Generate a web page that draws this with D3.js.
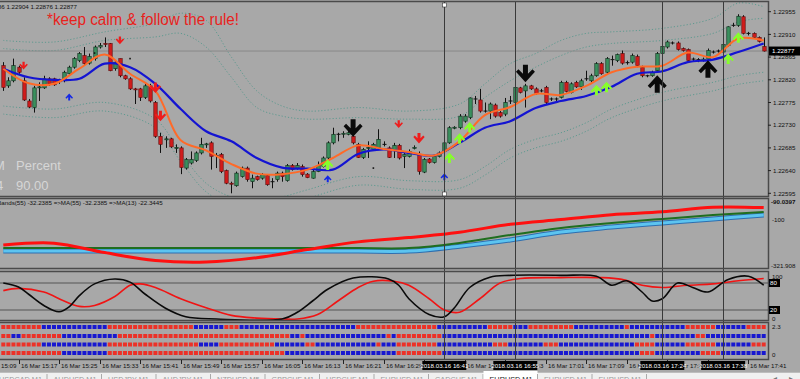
<!DOCTYPE html>
<html><head><meta charset="utf-8">
<script src="https://cdn.jsdelivr.net/npm/d3@7/dist/d3.min.js"></script>
<style>
body{margin:0;background:#a8a8a8;overflow:hidden}
svg{display:block}
text{font-family:"Liberation Sans",Arial,sans-serif}
</style></head>
<body><svg id="c" width="800" height="379"></svg>
<script>
// ---------------- DATA ----------------
const symbolHeader = "EURUSD,M1  1.22886 1.22904 1.22876 1.22877";
const firstBarTime = "15:14";
const open = [1.22848,1.22808,1.22818,1.22845,1.22818,1.22778,1.22765,1.22804,1.22804,1.22822,1.22822,1.22818,1.22818,1.22832,1.22845,1.22858,1.22868,1.22853,1.22862,1.22885,1.22892,1.22892,1.22842,1.22862,1.22828,1.22822,1.22802,1.22802,1.22785,1.22808,1.22775,1.22708,1.22702,1.22703,1.22685,1.22685,1.22645,1.22655,1.22660,1.22675,1.22692,1.22695,1.22670,1.22672,1.22640,1.22615,1.22610,1.22628,1.22645,1.22618,1.22628,1.22625,1.22630,1.22618,1.22622,1.22635,1.22620,1.22650,1.22645,1.22648,1.22633,1.22625,1.22638,1.22648,1.22665,1.22695,1.22712,1.22713,1.22712,1.22708,1.22692,1.22666,1.22685,1.22682,1.22685,1.22692,1.22685,1.22680,1.22690,1.22668,1.22668,1.22685,1.22672,1.22637,1.22663,1.22656,1.22668,1.22678,1.22695,1.22725,1.22725,1.22738,1.22745,1.22782,1.22780,1.22758,1.22758,1.22770,1.22755,1.22752,1.22778,1.22775,1.22804,1.22798,1.22808,1.22802,1.22798,1.22805,1.22782,1.22782,1.22785,1.22815,1.22795,1.22815,1.22806,1.22822,1.22818,1.22828,1.22852,1.22835,1.22860,1.22858,1.22872,1.22854,1.22855,1.22866,1.22845,1.22828,1.22828,1.22838,1.22872,1.22885,1.22893,1.22893,1.22882,1.22880,1.22861,1.22860,1.22858,1.22861,1.22875,1.22877,1.22875,1.22888,1.22928,1.22928,1.22945,1.22912,1.22912,1.22904,1.22886];
const high = [1.22855,1.22825,1.22862,1.22848,1.22825,1.22782,1.22808,1.22815,1.22828,1.22825,1.22824,1.22822,1.22838,1.22848,1.22865,1.22875,1.22885,1.22872,1.22888,1.22893,1.22904,1.22893,1.22858,1.22862,1.22830,1.22825,1.22804,1.22804,1.22812,1.22812,1.22778,1.22715,1.22708,1.22705,1.22692,1.22688,1.22665,1.22678,1.22678,1.22705,1.22695,1.22698,1.22675,1.22675,1.22642,1.22618,1.22638,1.22648,1.22648,1.22632,1.22630,1.22635,1.22633,1.22625,1.22638,1.22638,1.22653,1.22653,1.22655,1.22652,1.22635,1.22642,1.22658,1.22668,1.22698,1.22725,1.22715,1.22718,1.22720,1.22712,1.22695,1.22685,1.22698,1.22695,1.22722,1.22698,1.22688,1.22695,1.22693,1.22675,1.22682,1.22690,1.22678,1.22665,1.22665,1.22670,1.22678,1.22698,1.22728,1.22728,1.22752,1.22752,1.22785,1.22788,1.22802,1.22775,1.22775,1.22773,1.22758,1.22784,1.22788,1.22808,1.22806,1.22812,1.22810,1.22805,1.22802,1.22808,1.22785,1.22785,1.22818,1.22818,1.22815,1.22818,1.22822,1.22838,1.22832,1.22855,1.22855,1.22865,1.22868,1.22872,1.22878,1.22858,1.22872,1.22870,1.22848,1.22830,1.22838,1.22875,1.22890,1.22898,1.22896,1.22896,1.22884,1.22882,1.22864,1.22863,1.22864,1.22882,1.22878,1.22880,1.22893,1.22926,1.22933,1.22950,1.22948,1.22915,1.22914,1.22906,1.22904];
const low = [1.22798,1.22804,1.22815,1.22832,1.22778,1.22764,1.22755,1.22778,1.22802,1.22808,1.22808,1.22812,1.22815,1.22830,1.22842,1.22855,1.22848,1.22850,1.22858,1.22882,1.22885,1.22837,1.22838,1.22825,1.22820,1.22800,1.22772,1.22778,1.22782,1.22775,1.22705,1.22675,1.22685,1.22685,1.22675,1.22633,1.22642,1.22652,1.22657,1.22672,1.22685,1.22642,1.22645,1.22635,1.22613,1.22595,1.22608,1.22626,1.22618,1.22605,1.22620,1.22622,1.22610,1.22605,1.22618,1.22618,1.22618,1.22640,1.22642,1.22628,1.22625,1.22624,1.22637,1.22646,1.22662,1.22692,1.22698,1.22705,1.22710,1.22692,1.22665,1.22663,1.22665,1.22680,1.22682,1.22688,1.22665,1.22665,1.22662,1.22645,1.22666,1.22682,1.22632,1.22635,1.22654,1.22654,1.22666,1.22676,1.22693,1.22722,1.22722,1.22735,1.22742,1.22772,1.22755,1.22755,1.22742,1.22745,1.22745,1.22748,1.22772,1.22772,1.22793,1.22765,1.22800,1.22790,1.22795,1.22772,1.22778,1.22778,1.22783,1.22795,1.22793,1.22804,1.22800,1.22818,1.22815,1.22826,1.22830,1.22832,1.22848,1.22855,1.22850,1.22850,1.22852,1.22845,1.22825,1.22825,1.22826,1.22835,1.22870,1.22882,1.22890,1.22878,1.22876,1.22856,1.22856,1.22855,1.22856,1.22858,1.22872,1.22874,1.22872,1.22886,1.22925,1.22925,1.22910,1.22908,1.22902,1.22894,1.22876];
const close = [1.22805,1.22818,1.22848,1.22835,1.22780,1.22766,1.22804,1.22806,1.22822,1.22812,1.22810,1.22817,1.22835,1.22845,1.22862,1.22872,1.22852,1.22866,1.22885,1.22888,1.22891,1.22838,1.22855,1.22828,1.22822,1.22802,1.22801,1.22785,1.22808,1.22778,1.22708,1.22692,1.22703,1.22687,1.22686,1.22646,1.22662,1.22662,1.22675,1.22692,1.22693,1.22668,1.22670,1.22638,1.22615,1.22614,1.22635,1.22645,1.22622,1.22625,1.22622,1.22632,1.22612,1.22618,1.22635,1.22628,1.22650,1.22642,1.22650,1.22632,1.22626,1.22638,1.22650,1.22665,1.22695,1.22712,1.22712,1.22714,1.22715,1.22695,1.22666,1.22682,1.22686,1.22692,1.22702,1.22692,1.22666,1.22690,1.22665,1.22672,1.22678,1.22686,1.22638,1.22662,1.22656,1.22668,1.22675,1.22695,1.22725,1.22726,1.22748,1.22748,1.22784,1.22782,1.22758,1.22758,1.22772,1.22748,1.22748,1.22775,1.22778,1.22805,1.22795,1.22808,1.22802,1.22793,1.22798,1.22775,1.22782,1.22782,1.22815,1.22797,1.22812,1.22806,1.22818,1.22822,1.22828,1.22852,1.22832,1.22862,1.22860,1.22870,1.22853,1.22854,1.22868,1.22848,1.22828,1.22828,1.22835,1.22872,1.22886,1.22895,1.22893,1.22880,1.22878,1.22858,1.22861,1.22860,1.22861,1.22878,1.22875,1.22877,1.22890,1.22925,1.22928,1.22946,1.22912,1.22912,1.22904,1.22896,1.22877];

// moving averages, read every 5 bars
const maBars   = [0,5,10,15,20,25,30,35,40,45,50,55,60,65,70,75,80,85,90,95,100,105,110,115,120,125,130,135,140,145,150];
const maFast   = [1.22842,1.22813,1.22812,1.22842,1.22870,1.22832,1.22798,1.22700,1.22680,1.22653,1.22634,1.22633,1.22642,1.22665,1.22690,1.22683,1.22677,1.22670,1.22698,1.22750,1.22766,1.22792,1.22790,1.22808,1.22835,1.22846,1.22848,1.22874,1.22865,1.22902,1.22898];
const maSlow   = [1.22842,1.22825,1.22820,1.22822,1.22852,1.22845,1.22812,1.22762,1.22718,1.22698,1.22665,1.22646,1.22644,1.22642,1.22673,1.22682,1.22675,1.22670,1.22695,1.22725,1.22738,1.22764,1.22778,1.22788,1.22806,1.22832,1.22837,1.22855,1.22860,1.22875,1.22892];
// envelope bands (dotted)
const bandBars   = [0,10,20,30,35,40,45,50,55,60,70,80,90,95,100,105,110,115,120,130,140,145,150];
const bandUpper2 = [1.22898,1.22895,1.22915,1.22932,1.22952,1.22938,1.22865,1.22798,1.22768,1.22758,1.22765,1.22758,1.22772,1.22812,1.22852,1.22872,1.22898,1.22912,1.22915,1.22922,1.22942,1.22972,1.22965];
const bandUpper1 = [1.22882,1.22878,1.22898,1.22905,1.22912,1.22885,1.22825,1.22765,1.22748,1.22742,1.22745,1.22742,1.22748,1.22785,1.22818,1.22845,1.22868,1.22885,1.22892,1.22898,1.22912,1.22935,1.22942];
const bandLower1 = [1.22768,1.22762,1.22775,1.22742,1.22675,1.22615,1.22588,1.22582,1.22588,1.22602,1.22628,1.22620,1.22622,1.22648,1.22682,1.22702,1.22715,1.22735,1.22762,1.22795,1.22815,1.22828,1.22835];
const bandLower2 = [1.22752,1.22745,1.22758,1.22725,1.22658,1.22598,1.22571,1.22565,1.22571,1.22585,1.22611,1.22603,1.22605,1.22631,1.22665,1.22685,1.22698,1.22718,1.22745,1.22778,1.22798,1.22811,1.22818];

const bidPrice = 1.22877;
const priceTicks = [1.22955,1.22910,1.22865,1.22820,1.22775,1.22730,1.22685,1.22640,1.22595];

// signal arrows [bar, price]
const redDownSmall = [[4,1.22848],[23,1.22898],[78,1.22732]];
const redDownBig   = [[30,1.22804],[31,1.22748],[82,1.22704]];
const blueUp       = [[13,1.22786],[64,1.22624],[87,1.22628]];
const limeUp       = [[64,1.22652],[88,1.22666],[90,1.22704],[92,1.22726],[117,1.22800],[119,1.22806],[143,1.22862],[145,1.22904]];
const blackDown    = [[69,1.22724],[103,1.22832]];
const blackUp      = [[129,1.22812],[139,1.22842]];
const blackDots    = [[18,1.22873],[25,1.22862],[73,1.22645]];

// vertical lines
const vLineBars   = [87,101,130,142];
const vLineLabels = ["2018.03.16 16:41","2018.03.16 16:55","2018.03.16 17:24","2018.03.16 17:38"];

// time axis
const timeLabels = ["16 Mar 15:09","16 Mar 15:17","16 Mar 15:25","16 Mar 15:33","16 Mar 15:41","16 Mar 15:49","16 Mar 15:57","16 Mar 16:05","16 Mar 16:13","16 Mar 16:21","16 Mar 16:29","16 Mar 16:37","16 Mar 16:45","16 Mar 16:53","16 Mar 17:01","16 Mar 17:09","16 Mar 17:17","16 Mar 17:25","16 Mar 17:33","16 Mar 17:41"];

// panel 2 (bands oscillator)
const p2Legend = "=>Bands(55) -32.2385  =>MA(55) -32.2385  =>MA(13) -22.3445";
const p2Bars  = [0,10,20,30,40,50,60,70,80,90,100,110,120,130,140,150];
const p2Red   = [-215,-206,-250,-287,-294,-274,-236,-200,-180,-155,-118,-96,-73,-60,-38,-40];
const p2Green = [-229,-229,-229,-229,-229,-229,-229,-229,-229,-205,-168,-135,-112,-93,-75,-61];
const p2Blue  = [-243,-243,-243,-243,-243,-243,-243,-243,-243,-220,-191,-154,-131,-112,-93,-75];
const p2Max = 0.0397, p2Min = -321.908, p2Level = -100;

// panel 3 (stochastic)
const stBlack = [[0,80],[3,71],[5,55],[8,30],[11,16],[13,27],[15,52],[18,78],[22,89],[25,82],[28,55],[32,24],[36,5],[42,0],[55,0],[58,15],[61,40],[64,66],[69,91],[76,89],[78,75],[80,45],[84,10],[87,5],[89,25],[92,70],[96,93],[100,97],[110,97],[117,95],[120,75],[123,85],[126,60],[128,40],[130,45],[133,80],[136,70],[139,60],[143,88],[147,95],[150,75]];
const stRed   = [[0,63],[3,68],[8,60],[12,40],[15,28],[18,30],[22,50],[25,75],[27,78],[30,70],[35,45],[40,25],[45,8],[50,2],[55,0],[58,0],[62,10],[66,40],[70,70],[73,84],[77,84],[80,75],[84,45],[87,20],[90,15],[94,45],[98,80],[102,90],[110,92],[118,92],[122,88],[126,75],[130,70],[135,75],[140,78],[145,85],[150,90]];
const stLevels = [80,20];

// panel 4 (signal grid), run lengths per row
const gridRows = [
 [["R",8],["B",13],["R",17],["B",6],["R",3],["B",23],["R",16],["B",10],["R",5],["B",3],["R",9],["B",10],["R",1],["B",11],["R",6],["B",6],["R",4]],
 [["R",2],["B",2],["R",8],["B",11],["R",34],["B",2],["R",1],["B",16],["R",1],["B",1],["R",9],["B",41],["R",1],["B",8],["R",2],["B",12]],
 [["R",8],["B",13],["R",18],["B",4],["R",11],["B",6],["R",2],["B",12],["R",1],["B",3],["R",8],["B",11],["R",3],["B",7],["R",3],["B",15],["R",4],["B",6],["R",6],["B",7],["R",3]],
 [["R",12],["B",9],["R",35],["B",22],["R",9],["B",39],["R",3],["B",9],["R",4],["B",9]]
];

const tabs = ["USDCAD M1","AUDUSD M1","USDJPY M1","AUDJPY M1","NZDUSD M5","GBPCHF M1","USDCHF M1","EURUSD M1","CADCHF M1","EURUSD M1","EURUSD M1","EURUSD M1"];
const activeTab = 9;

// ---------------- DRAW ----------------
const svg = d3.select("#c");
const BG = "#a8a8a8";
const FR = 768;
const nBars = close.length;
const x = d3.scaleLinear().domain([0,150]).range([3.3,763.7]);
const toMin = s => { const [h,m] = s.split(":").map(Number); return h*60+m; };
const barOfTime = s => toMin(s) - toMin(firstBarTime);

const P1 = {t:2, b:196}, P2 = {t:199, b:268}, P3 = {t:272, b:320}, P4 = {t:323, b:359};
const yMain = d3.scaleLinear().domain([1.22595,1.22955]).range([193.3,11.7]);
const y2 = d3.scaleLinear().domain([p2Min,p2Max]).range([268,199]);
const y3 = d3.scaleLinear().domain([0,100]).range([319,274]);

svg.append("rect").attr("width",800).attr("height",379).attr("fill",BG);

const defs = svg.append("defs");
[["c1",P1],["c2",P2],["c3",P3],["c4",P4]].forEach(([id,p])=>{
  defs.append("clipPath").attr("id",id).append("rect").attr("x",0).attr("y",p.t).attr("width",FR).attr("height",p.b-p.t);
});
defs.append("clipPath").attr("id","cT").append("rect").attr("x",0).attr("y",359).attr("width",800).attr("height",13);

// ---- main panel
const g1 = svg.append("g").attr("clip-path","url(#c1)");
const bandLine = d3.line().x((d,i)=>x(bandBars[i])).y(d=>yMain(d)).curve(d3.curveCatmullRom);
[bandUpper2,bandUpper1,bandLower1,bandLower2].forEach(arr=>{
  g1.append("path").attr("d",bandLine(arr)).attr("fill","none").attr("stroke","#5f9a90").attr("stroke-width",1).attr("stroke-dasharray","1.2,2");
});
g1.append("line").attr("x1",0).attr("x2",FR).attr("y1",yMain(bidPrice)).attr("y2",yMain(bidPrice)).attr("stroke","#8a8a8a").attr("stroke-width",1);

const cg = g1.append("g");
d3.range(nBars).forEach(i=>{
  const cx = Math.round(x(i))+0.5;
  cg.append("line").attr("x1",cx).attr("x2",cx).attr("y1",yMain(high[i])).attr("y2",yMain(low[i])).attr("stroke","#111").attr("stroke-width",1);
  const o=open[i], c=close[i];
  const top = yMain(Math.max(o,c)), bot = yMain(Math.min(o,c));
  const hgt = Math.max(1, bot-top);
  if (Math.abs(o-c) < 0.000005) {
    cg.append("rect").attr("x",cx-2).attr("y",top-0.5).attr("width",4).attr("height",1).attr("fill","#111");
  } else {
    cg.append("rect").attr("x",cx-1.7).attr("y",top).attr("width",3.4).attr("height",hgt)
      .attr("fill", c>o ? "#3b8f5e" : "#d01c1c").attr("stroke", c>o ? "#0d2a18" : "#5a0c0c").attr("stroke-width",0.6);
  }
});

const maLine = d3.line().x((d,i)=>x(maBars[i])).y(d=>yMain(d)).curve(d3.curveCatmullRom);
g1.append("path").attr("d",maLine(maSlow)).attr("fill","none").attr("stroke","#1414d2").attr("stroke-width",2.2);
g1.append("path").attr("d",maLine(maFast)).attr("fill","none").attr("stroke","#ff6a28").attr("stroke-width",2);

const arrowPath = "M-2.5,-9 L2.5,-9 L2.5,0 L7,-4.5 L9.5,-2 L0,8.5 L-9.5,-2 L-7,-4.5 L-2.5,0 Z";
function arrows(list, color, scale, up){
  list.forEach(([b,p])=>{
    g1.append("path").attr("d",arrowPath)
      .attr("transform",`translate(${x(b)},${yMain(p)}) scale(${scale},${up?-scale:scale})`)
      .attr("fill",color);
  });
}
arrows(redDownSmall,"#ee1c1c",0.45,false);
arrows(redDownBig,"#ee1c1c",0.6,false);
arrows(blueUp,"#1428e6",0.4,true);
arrows(limeUp,"#86ff2a",0.6,true);
arrows(blackDown,"#0a0a0a",1.0,false);
arrows(blackUp,"#0a0a0a",1.0,true);
blackDots.forEach(([b,p])=>g1.append("rect").attr("x",x(b)-0.8).attr("y",yMain(p)-0.8).attr("width",1.6).attr("height",1.6).attr("fill","#111"));

g1.append("text").attr("x",77).attr("y",9).attr("text-anchor","end").attr("font-size",6.2).attr("fill","#111").text(symbolHeader);
g1.append("text").attr("x",47).attr("y",25).attr("font-size",16).attr("fill","#e8221c").attr("textLength",192).attr("lengthAdjust","spacingAndGlyphs").text("*keep calm & follow the rule!");
g1.append("text").attr("x",-6).attr("y",170).attr("font-size",13).attr("fill","#d6d6d6").text("M");
g1.append("text").attr("x",16).attr("y",170).attr("font-size",13).attr("fill","#d6d6d6").text("Percent");
g1.append("text").attr("x",-4).attr("y",190).attr("font-size",13).attr("fill","#d6d6d6").text("4");
g1.append("text").attr("x",16).attr("y",190).attr("font-size",13).attr("fill","#d6d6d6").text("90.00");

// ---- panel 2
const g2 = svg.append("g").attr("clip-path","url(#c2)");
const l2 = d3.line().x((d,i)=>x(p2Bars[i])).y(d=>y2(d)).curve(d3.curveCatmullRom);
g2.append("path").attr("d",l2(p2Blue)).attr("fill","none").attr("stroke","#2d6fb0").attr("stroke-width",5);
g2.append("path").attr("d",l2(p2Blue)).attr("fill","none").attr("stroke","#5cc4f0").attr("stroke-width",3);
g2.append("path").attr("d",l2(p2Green)).attr("fill","none").attr("stroke","#1f6e1f").attr("stroke-width",2);
g2.append("path").attr("d",l2(p2Red)).attr("fill","none").attr("stroke","#ff1010").attr("stroke-width",3);
g2.append("text").attr("x",-10).attr("y",205).attr("font-size",6.2).attr("fill","#111").text(p2Legend);

// ---- panel 3
const g3 = svg.append("g").attr("clip-path","url(#c3)");
stLevels.forEach(v=>g3.append("line").attr("x1",0).attr("x2",FR).attr("y1",y3(v)).attr("y2",y3(v)).attr("stroke","#555").attr("stroke-width",1));
const l3 = d3.line().x(d=>x(d[0])).y(d=>y3(d[1])).curve(d3.curveCatmullRom);
g3.append("path").attr("d",l3(stRed)).attr("fill","none").attr("stroke","#f01414").attr("stroke-width",1.6);
g3.append("path").attr("d",l3(stBlack)).attr("fill","none").attr("stroke","#0a0a0a").attr("stroke-width",1.6);

// ---- panel 4
const g4 = svg.append("g").attr("clip-path","url(#c4)");
const rowY = [325,334,342.5,351];
gridRows.forEach((runs,r)=>{
  let b = 0;
  runs.forEach(([col,n])=>{
    for(let k=0;k<n;k++,b++){
      g4.append("rect").attr("x",x(b)-2).attr("y",rowY[r]).attr("width",4).attr("height",4)
        .attr("fill", col==="R" ? "#ec3228" : "#1818d0");
    }
  });
});

vLineBars.forEach(b=>{
  const vx = Math.round(x(b))+0.5;
  svg.append("line").attr("x1",vx).attr("x2",vx).attr("y1",2).attr("y2",360).attr("stroke","#3a3a3a").attr("stroke-width",1);
});
svg.append("rect").attr("x",Math.round(x(vLineBars[0]))-1.5).attr("y",3).attr("width",4).attr("height",4).attr("fill","#fff").attr("stroke","#333").attr("stroke-width",0.6);
svg.append("rect").attr("x",Math.round(x(vLineBars[0]))-1.5).attr("y",192).attr("width",4).attr("height",4).attr("fill","#fff").attr("stroke","#333").attr("stroke-width",0.6);

function frame(p){
  svg.append("rect").attr("x",-2).attr("y",p.t-0.5).attr("width",FR+2.5).attr("height",p.b-p.t+1).attr("fill","none").attr("stroke","#4a4a4a").attr("stroke-width",1.5);
}
[P1,P2,P3,P4].forEach(frame);

// ---- right axis
const ax = svg.append("g").attr("font-size",6.2).attr("fill","#111");
priceTicks.forEach(p=>{
  ax.append("line").attr("x1",FR).attr("x2",FR+3).attr("y1",yMain(p)).attr("y2",yMain(p)).attr("stroke","#222");
  ax.append("text").attr("x",773).attr("y",yMain(p)+2.2).text(d3.format(".5f")(p));
});
ax.append("rect").attr("x",769).attr("y",yMain(bidPrice)-4.5).attr("width",31).attr("height",9).attr("fill","#000");
ax.append("text").attr("x",772).attr("y",yMain(bidPrice)+2.3).attr("fill","#fff").text(d3.format(".5f")(bidPrice));
ax.append("text").attr("x",771).attr("y",204).attr("font-weight","bold").text("-90.0397");
ax.append("text").attr("x",772).attr("y",y2(p2Level)+2).text(String(p2Level));
ax.append("text").attr("x",771).attr("y",268).text("-321.908");
ax.append("text").attr("x",772).attr("y",279).text("100");
[80,20].forEach(v=>{
  ax.append("rect").attr("x",769).attr("y",y3(v)-4).attr("width",11).attr("height",8).attr("fill","#000");
  ax.append("text").attr("x",770).attr("y",y3(v)+2.2).attr("fill","#fff").text(v);
});
ax.append("text").attr("x",772).attr("y",321).text("0");
ax.append("text").attr("x",772).attr("y",329).text("2.3");
ax.append("text").attr("x",772).attr("y",357).text("0");

// ---- time axis
const tx = svg.append("g").attr("font-size",6.2).attr("fill","#111").attr("clip-path","url(#cT)");
const boxes = vLineBars.map(b=>[x(b)-22, x(b)+22]);
timeLabels.forEach(lbl=>{
  const b = barOfTime(lbl.slice(-5));
  const px = Math.round(x(b))+0.5;
  const hidden = boxes.some(([a,z])=> px+1.5 >= a-2 && px+36 <= z+2);
  tx.append("line").attr("x1",px).attr("x2",px).attr("y1",360).attr("y2",364).attr("stroke","#222");
  if(!hidden) tx.append("text").attr("x",px+1.5).attr("y",368).text(lbl);
});
vLineLabels.forEach((lbl,i)=>{
  const cx = x(vLineBars[i]);
  tx.append("rect").attr("x",cx-22).attr("y",361).attr("width",44).attr("height",9).attr("fill","#000");
  tx.append("text").attr("x",cx).attr("y",368).attr("text-anchor","middle").attr("fill","#fff").text(lbl);
});

// ---- tabs
const tb = svg.append("g");
tb.append("rect").attr("x",0).attr("y",372).attr("width",800).attr("height",7).attr("fill","#f0f0f0");
tb.append("line").attr("x1",0).attr("x2",800).attr("y1",372.5).attr("y2",372.5).attr("stroke","#bdbdbd");
const tabX = d3.scaleLinear().domain([0,1]).range([-4,50.5]);
tabs.forEach((t,i)=>{
  const tx0 = tabX(i);
  if(i===activeTab){
    tb.append("rect").attr("x",tx0-3).attr("y",371).attr("width",54).attr("height",8).attr("fill","#fff");
  }
  tb.append("text").attr("x",tx0+3).attr("y",381.5).attr("font-size",7.3).attr("fill", i===activeTab ? "#222" : "#9a9a9a").text(t);
  tb.append("line").attr("x1",tx0+51).attr("x2",tx0+51).attr("y1",374).attr("y2",379).attr("stroke","#aaa");
});
tb.append("text").attr("x",773).attr("y",381).attr("font-size",8).attr("fill","#777").text("◂");
tb.append("text").attr("x",789).attr("y",381).attr("font-size",8).attr("fill","#777").text("▸");
</script></body></html>
